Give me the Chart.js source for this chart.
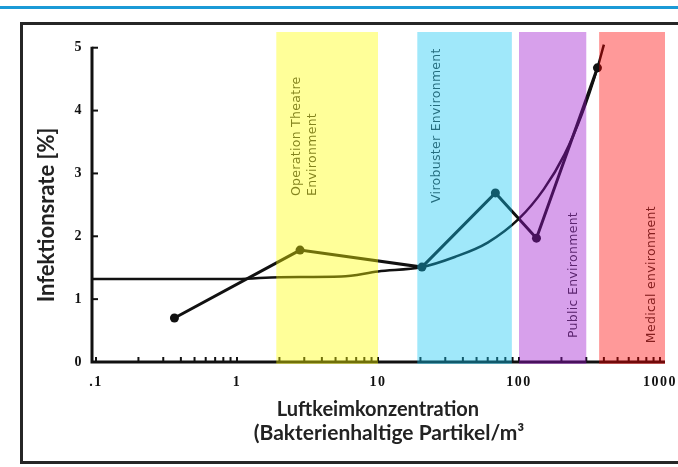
<!DOCTYPE html>
<html>
<head>
<meta charset="utf-8">
<script src="https://cdn.jsdelivr.net/npm/chart.js@4.4.1/dist/chart.umd.min.js"></script>
<style>
    html, body { margin: 0; padding: 0; background: #fff; }
    #wrap { position: relative; width: 678px; height: 467px; overflow: hidden; }
    #topline { position: absolute; left: 0; top: 6px; width: 678px; height: 3px; background: #1b9ad6; }
    #frame { position: absolute; left: 20px; top: 22px; width: 700px; height: 436px; border: 3px solid #262626; }
    #chart { position: absolute; left: 0; top: 0; }
</style>
</head>
<body>
<div id="wrap">
    <div id="topline"></div>
    <div id="frame"></div>
    <canvas id="chart" width="678" height="467"></canvas>
</div>
<script>
// Achsen
const xTickValues = [0.1, 1, 10, 100, 1000];
const yTickValues = [0, 1, 2, 3, 4, 5];

// Messpunkte (Polylinie mit Punkten)
const measuredX = [0.36, 2.8, 20.5, 68, 133, 360];
const measuredY = [0.7, 1.78, 1.51, 2.69, 1.97, 4.68];

// geglaettete Kurve
const trendX = [0.094, 1, 2, 5.5, 10, 20.5, 35, 60, 100, 150, 210, 280, 360, 400];
const trendY = [1.32, 1.32, 1.35, 1.36, 1.44, 1.51, 1.67, 1.9, 2.28, 2.75, 3.3, 3.95, 4.68, 5.05];

// Umgebungsbereiche
const zoneNames = [['Operation Theatre', 'Environment'], ['Virobuster Environment'], ['Public Environment'], ['Medical environment']];
const zoneFrom = [1.9, 19, 100, 370];
const zoneTo = [10, 89, 300, 1085];

// Stil / Lage der Beschriftungen (keine Daten)
const zoneColors = ['rgba(255,255,0,0.4)', 'rgba(17,197,242,0.4)', 'rgba(155,17,205,0.4)', 'rgba(255,0,0,0.4)'];
const zoneLabelDx = [[20, 36], [19], [55], [53]];
const zoneLabelY = [2.64, 2.53, 0.38, 0.3];

// kleine Teilstriche auf der log-Achse
const minorTicks = [];
[0.1, 1, 10, 100].forEach(d => {
    for (let m = 1; m <= 9; m++) minorTicks.push(d * m);
});
minorTicks.push(1000);

const zonePlugin = {
    id: 'zones',
    beforeDraw(chart) {
        chart.ctx.letterSpacing = '1.5px';
    },
    afterDatasetsDraw(chart) {
        const { ctx, chartArea: a, scales: { x, y } } = chart;
        ctx.save();
        ctx.letterSpacing = '0px';

        // Achsenlinien
        ctx.strokeStyle = '#111';
        ctx.lineWidth = 3;
        ctx.beginPath();
        ctx.moveTo(a.left, y.getPixelForValue(5) - 1);
        ctx.lineTo(a.left, a.bottom);
        ctx.lineTo(a.right, a.bottom);
        ctx.stroke();

        ctx.lineWidth = 2;
        yTickValues.forEach(v => {
            if (v === 0) return;
            const py = y.getPixelForValue(v);
            ctx.beginPath();
            ctx.moveTo(a.left, py);
            ctx.lineTo(a.left + 6, py);
            ctx.stroke();
        });
        minorTicks.forEach(v => {
            const px = x.getPixelForValue(v);
            ctx.beginPath();
            ctx.moveTo(px, a.bottom);
            ctx.lineTo(px, a.bottom - 5);
            ctx.stroke();
        });

        // Beschriftung der Bereiche
        ctx.fillStyle = '#333';
        ctx.font = '12.5px "DejaVu Sans"';
        ctx.letterSpacing = '0.3px';
        ctx.textAlign = 'left';
        ctx.textBaseline = 'middle';
        zoneNames.forEach((lines, i) => {
            const left = x.getPixelForValue(zoneFrom[i]);
            const py = y.getPixelForValue(zoneLabelY[i]);
            lines.forEach((t, j) => {
                ctx.save();
                ctx.translate(left + zoneLabelDx[i][j], py);
                ctx.rotate(-Math.PI / 2);
                ctx.fillText(t, 0, 0);
                ctx.restore();
            });
        });

        // farbige Bereiche ueber alles legen
        zoneFrom.forEach((from, i) => {
            const x0 = x.getPixelForValue(from);
            const x1 = Math.min(x.getPixelForValue(zoneTo[i]), a.right);
            ctx.fillStyle = zoneColors[i];
            ctx.fillRect(x0, a.top, x1 - x0, a.bottom + 2 - a.top);
        });
        ctx.restore();
    },
    afterDraw(chart) {
        const ctx = chart.ctx;
        ctx.save();
        ctx.letterSpacing = '0px';
        ctx.fillStyle = '#222';
        ctx.textAlign = 'center';
        ctx.textBaseline = 'middle';

        ctx.font = 'bold 22px Lato';
        ctx.save();
        ctx.translate(47, 215);
        ctx.rotate(-Math.PI / 2);
        ctx.fillText('Infektionsrate [%]', 0, 0);
        ctx.restore();

        ctx.font = 'bold 20px Lato';
        ctx.fillText('Luftkeimkonzentration', 378, 410);
        ctx.font = 'bold 21px Lato';
        ctx.fillText('(Bakterienhaltige Partikel/m\u00B3', 389, 433);
        ctx.restore();
    }
};

const ctx = document.getElementById('chart').getContext('2d');
const chart = new Chart(ctx, {
    type: 'line',
    data: {
        datasets: [
            {
                label: 'Messwerte',
                data: measuredX.map((v, i) => ({ x: v, y: measuredY[i] })),
                borderColor: '#111',
                backgroundColor: '#111',
                borderWidth: 3,
                pointRadius: 4.5,
                pointBorderWidth: 0,
                pointBackgroundColor: '#111',
                tension: 0
            },
            {
                label: 'Trend',
                data: trendX.map((v, i) => ({ x: v, y: trendY[i] })),
                borderColor: '#111',
                borderWidth: 2.5,
                pointRadius: 0,
                cubicInterpolationMode: 'monotone'
            }
        ]
    },
    options: {
        responsive: false,
        animation: false,
        devicePixelRatio: 1,
        layout: { padding: { top: 32, right: 13, left: 0, bottom: 0 } },
        plugins: {
            legend: { display: false },
            tooltip: { enabled: false }
        },
        scales: {
            x: {
                type: 'logarithmic',
                min: 0.0937,
                max: 1085,
                grid: { display: false, drawTicks: false },
                border: { display: false },
                afterBuildTicks: s => { s.ticks = xTickValues.map(v => ({ value: v })); },
                afterFit: s => {
                    s.height = 105;
                    s.paddingLeft = 0;
                    s.paddingRight = 0;
                },
                ticks: {
                    padding: 12,
                    color: '#111',
                    autoSkip: false,
                    maxRotation: 0,
                    font: { family: 'Liberation Serif', weight: 'bold', size: 14 },
                    callback: v => (v === 0.1 ? '.1' : String(v))
                }
            },
            y: {
                min: 0,
                max: 5.25,
                grid: { display: false, drawTicks: false },
                border: { display: false },
                afterBuildTicks: s => { s.ticks = yTickValues.map(v => ({ value: v })); },
                afterFit: s => {
                    s.width = 92;
                    s.paddingTop = 0;
                    s.paddingBottom = 0;
                },
                ticks: {
                    padding: 9,
                    color: '#111',
                    font: { family: 'Liberation Serif', weight: 'bold', size: 14 },
                    callback: v => String(v)
                }
            }
        }
    },
    plugins: [zonePlugin]
});
</script>
</body>
</html>
